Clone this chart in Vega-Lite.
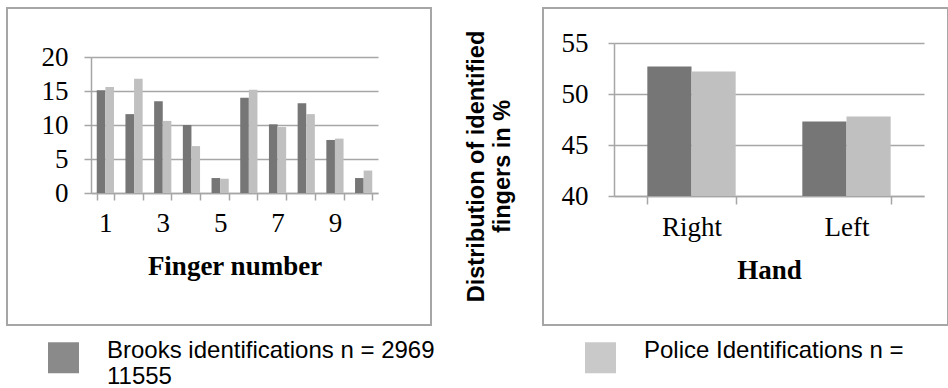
{
  "$schema": "https://vega.github.io/schema/vega-lite/v6.json",
  "padding": {"left": 6, "top": 7, "right": 0, "bottom": 0},
  "background": "white",
  "bounds": "flush",
  "spacing": 112,
  "resolve": {"scale": {"xOffset": "independent"}},
  "datasets": {
    "fingers": [
      {"finger": 1, "series": "Brooks", "value": 15.1},
      {"finger": 1, "series": "Police", "value": 15.6},
      {"finger": 2, "series": "Brooks", "value": 11.6},
      {"finger": 2, "series": "Police", "value": 16.8},
      {"finger": 3, "series": "Brooks", "value": 13.5},
      {"finger": 3, "series": "Police", "value": 10.6},
      {"finger": 4, "series": "Brooks", "value": 10.0},
      {"finger": 4, "series": "Police", "value": 6.9},
      {"finger": 5, "series": "Brooks", "value": 2.2},
      {"finger": 5, "series": "Police", "value": 2.1},
      {"finger": 6, "series": "Brooks", "value": 14.0},
      {"finger": 6, "series": "Police", "value": 15.2},
      {"finger": 7, "series": "Brooks", "value": 10.1},
      {"finger": 7, "series": "Police", "value": 9.7},
      {"finger": 8, "series": "Brooks", "value": 13.2},
      {"finger": 8, "series": "Police", "value": 11.6},
      {"finger": 9, "series": "Brooks", "value": 7.8},
      {"finger": 9, "series": "Police", "value": 8.0},
      {"finger": 10, "series": "Brooks", "value": 2.2},
      {"finger": 10, "series": "Police", "value": 3.3}
    ],
    "hands": [
      {"hand": "Right", "series": "Brooks", "value": 52.7},
      {"hand": "Right", "series": "Police", "value": 52.2},
      {"hand": "Left", "series": "Brooks", "value": 47.3},
      {"hand": "Left", "series": "Police", "value": 47.8}
    ]
  },
  "config": {
    "view": {"stroke": "#a6a6a6", "strokeWidth": 2},
    "axis": {
      "domainColor": "#a6a6a6", "domainWidth": 1.5,
      "tickColor": "#a6a6a6", "tickWidth": 1.5,
      "gridColor": "#a6a6a6", "gridWidth": 1.5,
      "labelFont": "Liberation Serif", "labelFontSize": 27, "labelColor": "#000000",
      "titleFont": "Liberation Serif", "titleFontSize": 27, "titleFontWeight": "bold", "titleColor": "#000000"
    }
  },
  "hconcat": [
    {
      "width": 424,
      "height": 317,
      "data": {"name": "fingers"},
      "mark": {"type": "bar"},
      "encoding": {
        "x": {
          "field": "finger", "type": "ordinal",
          "scale": {"range": [84, 371], "paddingInner": 0.4, "paddingOuter": 0.2},
          "axis": {"offset": -132, "labelAngle": 0, "labelExpr": "datum.value % 2 == 1 ? datum.label : ''", "tickBand": "extent", "tickSize": 7, "labelPadding": 10, "title": "Finger number", "titlePadding": 17}
        },
        "xOffset": {"field": "series", "type": "nominal"},
        "y": {
          "field": "value", "type": "quantitative",
          "scale": {"domain": [0, 20], "range": [185, 49], "nice": false},
          "axis": {"offset": -84, "values": [0, 5, 10, 15, 20], "title": null, "tickSize": 7, "labelPadding": 16, "grid": true}
        },
        "y2": {"datum": 0},
        "color": {
          "field": "series", "type": "nominal",
          "scale": {"domain": ["Brooks", "Police"], "range": ["#767676", "#c0c0c0"]},
          "legend": {"orient": "none", "legendX": 41, "legendY": 334, "direction": "horizontal", "columns": 2, "columnPadding": 150, "title": null, "labelFont": "Liberation Sans", "labelFontSize": 24, "labelColor": "#000000", "labelLimit": 600, "labelOffset": 28, "symbolType": "square", "symbolSize": 961, "symbolStrokeWidth": 0, "symbolOpacity": 0.85, "padding": 0, "labelBaseline": "alphabetic", "labelExpr": "datum.value == 'Brooks' ? ['Brooks identifications n = 2969', '11555'] : ['Police Identifications n =', ' ']"}
        }
      }
    },
    {
      "width": 405,
      "height": 317,
      "data": {"name": "hands"},
      "mark": {"type": "bar"},
      "encoding": {
        "x": {
          "field": "hand", "type": "nominal", "sort": ["Right", "Left"],
          "scale": {"range": [71, 381], "paddingInner": 0.43, "paddingOuter": 0.215},
          "axis": {"offset": -129, "labelAngle": 0, "tickBand": "extent", "tickSize": 8, "labelPadding": 10, "title": "Hand", "titlePadding": 17}
        },
        "xOffset": {"field": "series", "type": "nominal"},
        "y": {
          "field": "value", "type": "quantitative",
          "scale": {"domain": [40, 55], "range": [188, 35], "nice": false, "zero": false},
          "axis": {"offset": -71, "values": [40, 45, 50, 55], "grid": true, "tickSize": 6, "labelPadding": 20,
            "title": ["Distribution of identified", "fingers in %"],
            "titleFont": "Liberation Sans", "titleFontSize": 23.5, "titleX": -126, "titleY": 158, "titleAngle": -90, "titleAlign": "center", "titleBaseline": "bottom", "titleLineHeight": 26}
        },
        "y2": {"datum": 40},
        "color": {
          "field": "series", "type": "nominal",
          "scale": {"domain": ["Brooks", "Police"], "range": ["#767676", "#c0c0c0"]},
          "legend": {"orient": "none", "legendX": 41, "legendY": 334, "direction": "horizontal", "columns": 2, "columnPadding": 150, "title": null, "labelFont": "Liberation Sans", "labelFontSize": 24, "labelColor": "#000000", "labelLimit": 600, "labelOffset": 28, "symbolType": "square", "symbolSize": 961, "symbolStrokeWidth": 0, "symbolOpacity": 0.85, "padding": 0, "labelBaseline": "alphabetic", "labelExpr": "datum.value == 'Brooks' ? ['Brooks identifications n = 2969', '11555'] : ['Police Identifications n =', ' ']"}
        }
      }
    }
  ]
}
